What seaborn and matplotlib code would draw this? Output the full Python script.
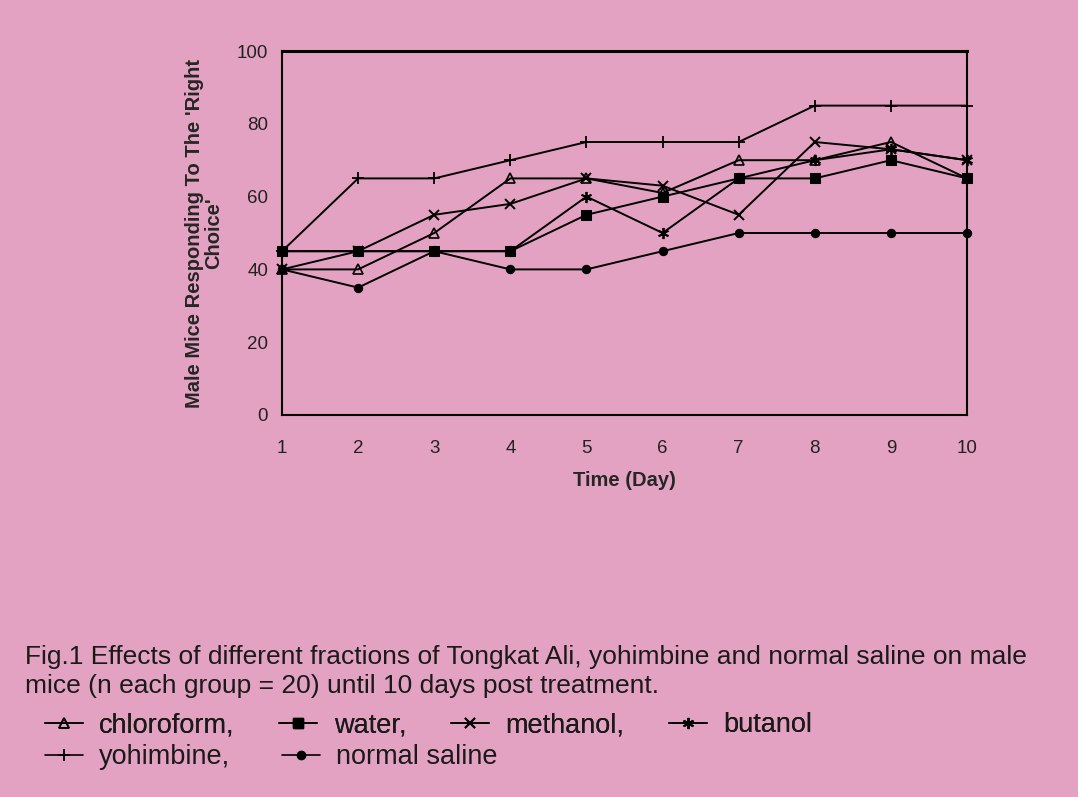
import matplotlib
matplotlib.use("Agg")
import matplotlib.pyplot as plt
from matplotlib.lines import Line2D
import seaborn as sns
import pandas as pd

# 데이터
days = [1, 2, 3, 4, 5, 6, 7, 8, 9, 10]
chloroform = [40, 40, 50, 65, 65, 61, 70, 70, 75, 65]
water = [45, 45, 45, 45, 55, 60, 65, 65, 70, 65]
methanol = [40, 45, 55, 58, 65, 63, 55, 75, 73, 70]
butanol = [45, 45, 45, 45, 60, 50, 65, 70, 73, 70]
yohimbine = [45, 65, 65, 70, 75, 75, 75, 85, 85, 85]
normal_saline = [40, 35, 45, 40, 40, 45, 50, 50, 50, 50]

y_ticks = [0, 20, 40, 60, 80, 100]

PINK = "#E4A2C3"
FONT = ["Liberation Sans", "DejaVu Sans"]

series = [
    ("chloroform", chloroform, dict(marker="^", markersize=7, markerfacecolor="none", markeredgewidth=1.2)),
    ("water", water, dict(marker="s", markersize=6.5)),
    ("methanol", methanol, dict(marker="x", markersize=7, markeredgewidth=1.4)),
    ("butanol", butanol, dict(marker=(6, 2, 0), markersize=8, markeredgewidth=1.3)),
    ("yohimbine", yohimbine, dict(marker="+", markersize=9, markeredgewidth=1.3)),
    ("normal saline", normal_saline, dict(marker="o", markersize=6)),
]


def set_config():
    sns.set_style("white")
    plt.rcParams["font.family"] = FONT
    plt.rcParams["axes.edgecolor"] = "black"


def draw():
    fig = plt.figure(figsize=(10.78, 7.97), dpi=100, facecolor=PINK)
    ax = fig.add_axes([0.2616, 0.4793, 0.6355, 0.4567])
    ax.set_facecolor(PINK)

    for name, vals, style in series:
        df = pd.DataFrame({"day": days, "value": vals})
        sns.lineplot(data=df, x="day", y="value", ax=ax, color="black",
                     linewidth=1.4, markeredgecolor="black", clip_on=False,
                     legend=False, **style)

    ax.set_xlim(1, 10)
    ax.set_ylim(0, 100)
    ax.set_xticks(days)
    ax.set_yticks(y_ticks)
    ax.tick_params(axis="both", length=0, labelsize=13.5, colors="#222222")
    ax.tick_params(axis="x", pad=18)
    ax.tick_params(axis="y", pad=10)
    for sp in ax.spines.values():
        sp.set_visible(True)
        sp.set_linewidth(1.5)
        sp.set_color("black")
    ax.spines["top"].set_linewidth(2.2)

    ax.set_xlabel("Time (Day)", fontsize=14.5, fontweight="bold", labelpad=10)
    ax.set_ylabel("Male Mice Responding To The 'Right\nChoice'", fontsize=14.5,
                  fontweight="bold", labelpad=10, linespacing=1.0)

    # 캡션
    fig.text(25 / 1078, 1 - 657 / 797,
             "Fig.1 Effects of different fractions of Tongkat Ali, yohimbine and normal saline on male",
             fontsize=19, va="center", ha="left", color="#1a1a1a")
    fig.text(25 / 1078, 1 - 686 / 797,
             "mice (n each group = 20) until 10 days post treatment.",
             fontsize=19, va="center", ha="left", color="#1a1a1a")

    # 범례 (두 줄로 분리)
    def handle(style):
        return Line2D([0], [0], color="black", linewidth=1.2, markeredgecolor="black", **style)

    styles = {name: style for name, _, style in series}
    row1 = ["chloroform", "water", "methanol", "butanol"]
    row2 = ["yohimbine", "normal saline"]
    labels1 = ["chloroform,", "water,", "methanol,", "butanol"]
    labels2 = ["yohimbine,", "normal saline"]

    kw = dict(frameon=False, fontsize=19.5, handlelength=1.4, handletextpad=0.6,
              borderaxespad=0, borderpad=0, labelcolor="#1a1a1a")
    leg1 = fig.legend([handle(styles[n]) for n in row1], labels1, ncol=4,
                      loc="center left", bbox_to_anchor=(45 / 1078, 1 - 725 / 797),
                      columnspacing=1.65, **kw)
    fig.add_artist(leg1)
    fig.legend([handle(styles[n]) for n in row2], labels2, ncol=2,
               loc="center left", bbox_to_anchor=(45 / 1078, 1 - 757 / 797),
               columnspacing=1.9, **kw)

    fig.savefig("out.png", dpi=100, facecolor=PINK)


def main():
    set_config()
    draw()


if __name__ == "__main__":
    main()
